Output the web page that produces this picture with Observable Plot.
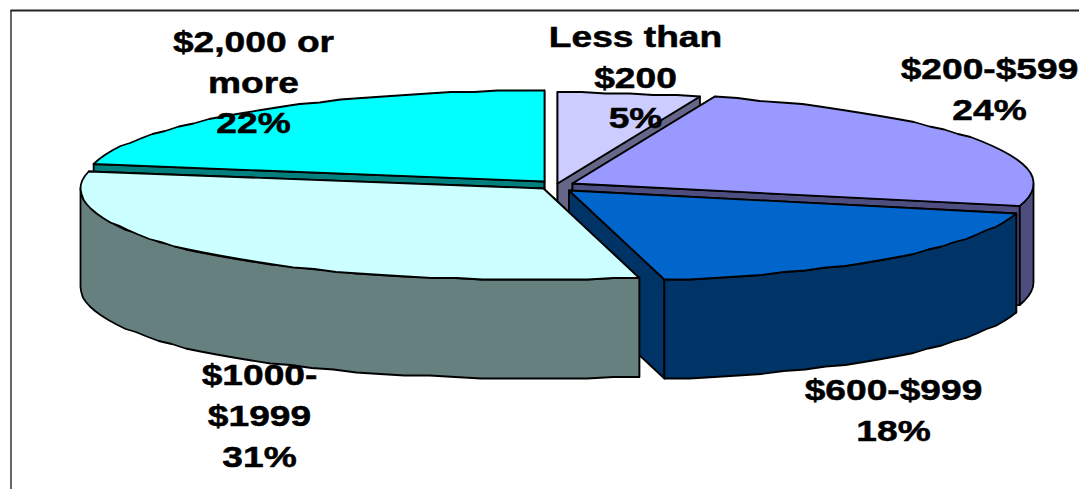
<!DOCTYPE html>
<html>
<head>
<meta charset="utf-8">
<script src="https://cdn.jsdelivr.net/npm/d3@7"></script>
<script src="https://cdn.jsdelivr.net/npm/@observablehq/plot@0.6"></script>
<style>
  html, body { margin: 0; padding: 0; background: #fff; }
  svg { display: block; }
</style>
</head>
<body>
<div id="chart"></div>
<script>
// Spending brackets, in the clockwise order of the pie starting at twelve o'clock.
const brackets = ["Less than $200", "$200-$599", "$600-$999", "$1000-$1999", "$2,000 or more"];
const shares = [5, 24, 18, 31, 22];
const labelLines = ["Less than\n$200\n5%", "$200-$599\n24%", "$600-$999\n18%", "$1000-\n$1999\n31%", "$2,000 or\nmore\n22%"];

const topColors = ["#ccccff", "#9999ff", "#0066cc", "#ccffff", "#00ffff"];
const wallColors = ["#666688", "#4d4d80", "#003366", "#668080", "#007f7f"];

// Exploded slice centres, radii and label block centres, in page pixels.
const centerX = [557, 572, 568.5, 543, 544];
const centerY = [183, 183, 190, 188, 181];
const radiiX = [461, 461, 461, 463, 459];
const labelX = [635, 989, 893, 259, 253];
const labelY = [74, 86, 407, 412.5, 79];

const width = 1079, height = 489;
const radiusY = 91, depth = 99;

// Cumulative start and end angle of each slice, in degrees clockwise from the top.
const total = d3.sum(shares);
const ends = d3.cumsum(shares).map(v => (v / total) * 360);
const starts = ends.map((_, i) => (i ? ends[i - 1] : 0));

// Tilted-disc projection; the near edge flares a little as in a perspective view.
// Heights snap to a coarse grid so the rim keeps its stepped, low-resolution look.
const snap = v => Math.round(v / 1.5) * 1.5;
function project(i, deg, drop = 0) {
  const a = (deg * Math.PI) / 180;
  const u = Math.sin(a), v = -Math.cos(a);
  const flare = 1 + 0.11 * Math.pow(Math.max(v, 0), 3);
  return {
    x: centerX[i] + radiiX[i] * u * flare,
    y: snap(centerY[i] + radiusY * v) + drop
  };
}

function arc(i, from, to, drop = 0) {
  const n = Math.max(1, Math.ceil(Math.abs(to - from) / 3));
  return d3.range(n + 1).map(k => project(i, from + ((to - from) * k) / n, drop));
}

const outline = {stroke: "#000", strokeWidth: 1.8, strokeLinejoin: "round", curve: "linear-closed"};

function polygon(points, fill) {
  return Plot.line(points, {x: "x", y: "y", fill, ...outline});
}

// Paint back to front: the back-left slice first, then clockwise from the top,
// with the large front-left slice last.
const paintOrder = [4, 0, 1, 2, 3];
const sliceMarks = paintOrder.flatMap(i => {
  const s = starts[i], e = ends[i];
  const tip = {x: centerX[i], y: centerY[i]};
  const tipLow = {x: centerX[i], y: centerY[i] + depth};
  const sideWall = deg => [tip, project(i, deg), project(i, deg, depth), tipLow];
  const marks = [polygon(sideWall(s), wallColors[i]), polygon(sideWall(e), wallColors[i])];
  const frontFrom = Math.max(s, 90), frontTo = Math.min(e, 270);
  if (frontFrom < frontTo) {
    marks.push(polygon([...arc(i, frontFrom, frontTo), ...arc(i, frontTo, frontFrom, depth)], wallColors[i]));
  }
  marks.push(polygon([tip, ...arc(i, s, e)], topColors[i]));
  return marks;
});

const labels = brackets.map((name, i) => ({name, text: labelLines[i], x: labelX[i], y: labelY[i]}));

// Arial-style labels, widened horizontally.
const widen = (index, scales, values, dimensions, context, next) => {
  const g = next(index, scales, values, dimensions, context);
  g.querySelectorAll("text").forEach(t => {
    t.setAttribute("transform", t.getAttribute("transform") + " scale(1.26,1)");
  });
  return g;
};

const chart = Plot.plot({
  width, height,
  margin: 0,
  x: {domain: [0, width], range: [0, width], axis: null},
  y: {domain: [0, height], range: [0, height], axis: null},
  marks: [
    Plot.ruleX([10.5], {y1: 10, y2: height, stroke: "#333", strokeWidth: 1.5}),
    Plot.ruleY([10], {x1: 10.5, x2: width, stroke: "#222", strokeWidth: 1.8}),
    ...sliceMarks,
    Plot.text(labels, {
      x: "x", y: "y", text: "text",
      fontFamily: "Liberation Sans", fontWeight: "bold", fontSize: 29.5,
      lineHeight: 1.38, lineAnchor: "middle", textAnchor: "middle", fill: "#000",
      stroke: "#000", strokeWidth: 0.5,
      render: widen
    })
  ]
});
document.getElementById("chart").append(chart);
</script>
</body>
</html>
